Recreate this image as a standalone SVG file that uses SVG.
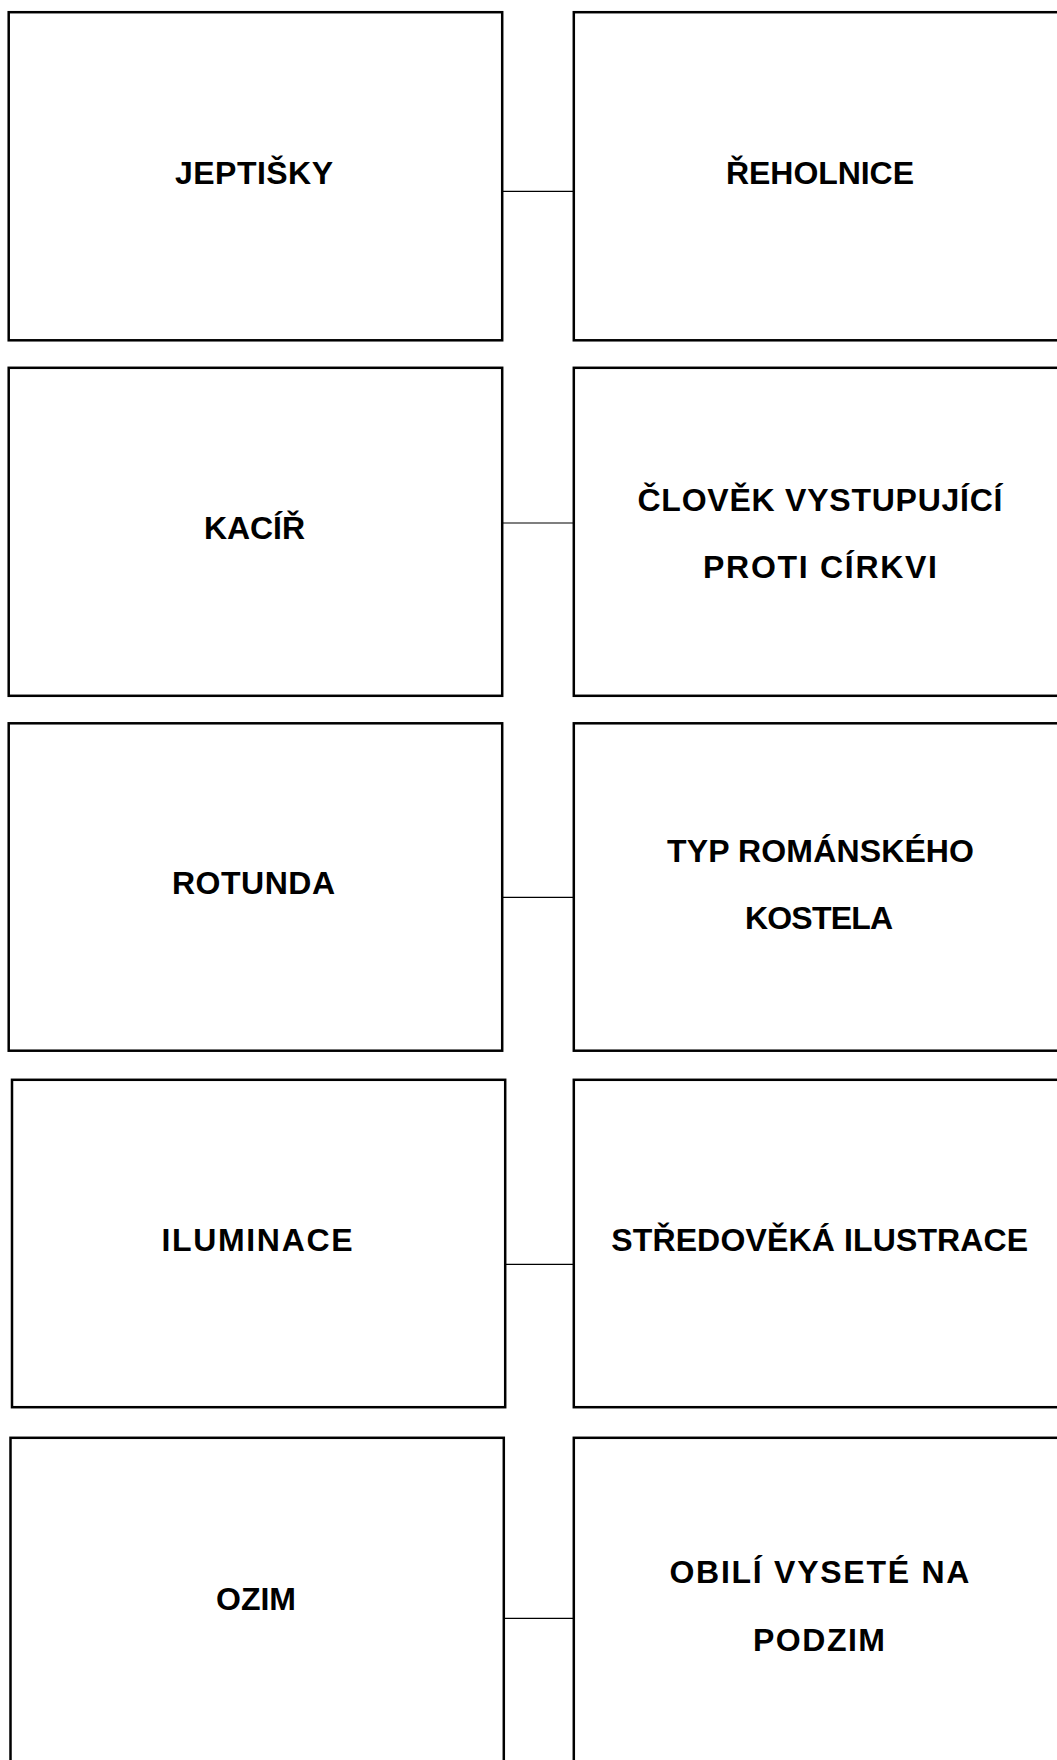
<svg xmlns="http://www.w3.org/2000/svg" width="1057" height="1760" viewBox="0 0 1057 1760">
<style>
.box{fill:#fff;stroke:#000;stroke-width:2.5}
.lbl{font-family:"Liberation Sans",Arial,sans-serif;font-weight:bold;font-size:32px;fill:#000;text-anchor:middle}
.con line{stroke:#000;stroke-width:1.2}
</style>
<rect width="1057" height="1760" fill="#fff"/>
<g id="connectors" class="con">
<line x1="502" y1="191.3" x2="574" y2="191.3"/>
<line x1="502" y1="523" x2="574" y2="523"/>
<line x1="502" y1="897.3" x2="574" y2="897.3"/>
<line x1="505" y1="1264.3" x2="574" y2="1264.3"/>
<line x1="504" y1="1618.3" x2="574" y2="1618.3"/>
</g>
<g id="n-jeptisky"><rect class="box" x="8.7" y="12.2" width="493.5" height="328.1"/><text class="lbl" x="254" y="184" textLength="158" lengthAdjust="spacing">JEPTIŠKY</text></g>
<g id="n-reholnice"><rect class="box" x="573.8" y="12.2" width="490" height="328.1"/><text class="lbl" x="820" y="184" textLength="188" lengthAdjust="spacing">ŘEHOLNICE</text></g>
<g id="n-kacir"><rect class="box" x="8.7" y="367.8" width="493.5" height="328"/><text class="lbl" x="254.5" y="539.3" textLength="101" lengthAdjust="spacing">KACÍŘ</text></g>
<g id="n-clovek"><rect class="box" x="573.8" y="367.8" width="490" height="328"/><text class="lbl" x="820" y="511" textLength="365" lengthAdjust="spacing">ČLOVĚK VYSTUPUJÍCÍ</text><text class="lbl" x="820" y="577.7" textLength="234" lengthAdjust="spacing">PROTI CÍRKVI</text></g>
<g id="n-rotunda"><rect class="box" x="8.7" y="723.3" width="493.5" height="327.4"/><text class="lbl" x="253.5" y="894" textLength="163" lengthAdjust="spacing">ROTUNDA</text></g>
<g id="n-typ"><rect class="box" x="573.8" y="723.3" width="490" height="327.4"/><text class="lbl" x="820.5" y="862.3" textLength="307" lengthAdjust="spacing">TYP ROMÁNSKÉHO</text><text class="lbl" x="819" y="929.3" textLength="148" lengthAdjust="spacing">KOSTELA</text></g>
<g id="n-iluminace"><rect class="box" x="12" y="1079.8" width="493.2" height="327.4"/><text class="lbl" x="257" y="1251" textLength="191" lengthAdjust="spacing">ILUMINACE</text></g>
<g id="n-stredoveka"><rect class="box" x="573.8" y="1079.8" width="490" height="327.4"/><text class="lbl" x="819.7" y="1251" textLength="417" lengthAdjust="spacing">STŘEDOVĚKÁ ILUSTRACE</text></g>
<g id="n-ozim"><rect class="box" x="10.5" y="1437.8" width="493.3" height="330"/><text class="lbl" x="256" y="1610">OZIM</text></g>
<g id="n-obili"><rect class="box" x="573.8" y="1437.8" width="490" height="330"/><text class="lbl" x="819.4" y="1582.7" textLength="300" lengthAdjust="spacing">OBILÍ VYSETÉ NA</text><text class="lbl" x="819" y="1650.7" textLength="132" lengthAdjust="spacing">PODZIM</text></g>
</svg>
